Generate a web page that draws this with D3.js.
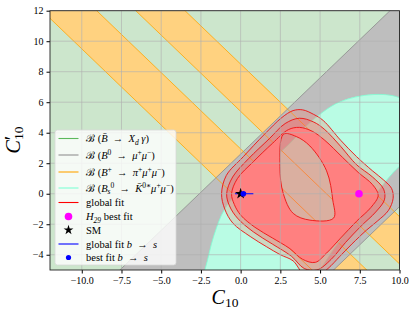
<!DOCTYPE html>
<html><head><meta charset="utf-8">
<script src="https://cdn.jsdelivr.net/npm/d3@7"></script>
<style>
body{margin:0;background:#fff}
text{font-family:"Liberation Serif","DejaVu Serif",serif}
</style>
</head><body>
<svg id="chart" width="415" height="315"></svg>
<script>
const xTicks = [-10, -7.5, -5, -2.5, 0, 2.5, 5, 7.5, 10];
const yTicks = [-4, -2, 0, 2, 4, 6, 8, 10, 12];

// B+ -> pi+ mu+ mu- allowed bands, as ranges of C10 + C10'
const orangeBands = [[-0.5, 2.94], [5.4, 8.5]];
// B0 -> mu+ mu- allowed band, as range of C10 - C10'
const grayBand = [-2.6, 10.85];

// Bs -> K*0 mu mu allowed region (C10, C10')
const cyanEdge = [[-3.2,-8],[-2.25,-5],[-1.7,-2.8],[-1.0,-1.0],[0.3,0.6],[1.5,1.8],[3.0,3.2],
  [4.4,4.7],[6.2,6.0],[8.3,6.5],[10,6.3],[11.5,5.2],[11.8,3.2],[10,1.8],[9.2,0.9],[7.8,-1.0],
  [6.25,-3.05],[5,-5],[3.5,-7.5],[0,-9.5]];

// global fit contours
const fit3 = [[-1.2,0],[-0.9,1.2],[0.17,2.43],[1.5,3.9],[2.6,5.0],[3.3,5.45],[3.9,5.5],[4.6,5.2],
  [5.2,4.8],[6.3,3.5],[7.3,2.43],[8.3,1.5],[9.0,0.9],[9.5,0.35],[9.6,-0.3],[9.3,-1.1],[8.6,-1.8],
  [7.93,-2.38],[7.0,-3.3],[6.25,-4.1],[5.5,-4.9],[4.8,-5.4],[4.0,-5.3],[3.3,-4.4],[2.5,-4.0],
  [1.64,-3.48],[0.6,-2.8],[-0.48,-1.94],[-1.0,-1.0]];
const fit2 = [[-0.88,0],[-0.5,1.1],[0.5,2.3],[1.8,3.6],[2.8,4.6],[3.7,4.95],[4.6,4.7],[5.3,4.2],
  [6.3,3.1],[7.3,1.9],[8.3,1.1],[9.0,0.3],[9.05,-0.4],[8.5,-1.2],[7.6,-2.1],[6.6,-3.2],[5.7,-4.3],
  [4.8,-5.0],[4.0,-4.9],[3.2,-4.1],[2.0,-3.3],[0.8,-2.5],[-0.2,-1.6],[-0.7,-0.8]];
const fit1 = [[-0.57,0],[-0.2,1.0],[0.8,2.1],[2.0,3.3],[3.0,4.2],[3.7,4.35],[4.5,4.1],[5.3,3.5],
  [6.4,2.4],[7.4,1.4],[8.3,0.6],[8.66,-0.1],[8.2,-0.9],[7.3,-1.8],[6.3,-2.9],[5.4,-3.9],[4.7,-4.5],
  [3.9,-4.3],[3.1,-3.6],[2.0,-2.9],[0.9,-2.2],[0.0,-1.4],[-0.4,-0.7]];
const fitHole = [[2.7,3.9],[2.47,1.77],[2.68,0.03],[3.31,-1.29],[4.36,-1.73],[5.85,-1.6],[5.8,-0.41],
  [5.41,1.5],[4.36,3.13],[3.5,3.75]];

const smPoint = [0, 0];
const h29Point = [7.45, 0];
const bsPoint = [0.17, 0];
const bsRange = [-0.36, 0.8];

const svg = d3.select("#chart");
const x = d3.scaleLinear().domain([-12, 10]).range([50, 399.5]);
const y = d3.scaleLinear().domain([-5, 12]).range([270, 10.7]);

svg.append("clipPath").attr("id", "plot")
  .append("rect").attr("x", 50).attr("y", 10.7).attr("width", 349.5).attr("height", 259.3);

const g = svg.append("g").attr("clip-path", "url(#plot)");
const line = d3.line().x(d => x(d[0])).y(d => y(d[1]));
const closed = d3.line().x(d => x(d[0])).y(d => y(d[1])).curve(d3.curveCatmullRomClosed.alpha(0.5));

// B -> X_d gamma covers the whole plane
g.append("rect").attr("x", 50).attr("y", 10.7).attr("width", 349.5).attr("height", 259.3)
  .attr("fill", "#cce6cc");

const sumBand = (a, b) => [[-30, a + 30], [30, a - 30], [30, b - 30], [-30, b + 30]];
const diffBand = (a, b) => [[-30, -30 - a], [30, 30 - a], [30, 30 - b], [-30, -30 - b]];

g.selectAll(".orange").data(orangeBands).enter().append("path")
  .attr("d", d => line(sumBand(d[0], d[1])) + "Z")
  .attr("fill", "#ffd280");

g.append("path").attr("d", line(diffBand(grayBand[0], grayBand[1])) + "Z")
  .attr("fill", "#bebebe");

g.append("path").attr("d", closed(cyanEdge)).attr("fill", "#b9fce4");

// edge lines of the bands
orangeBands.flat().forEach(s => {
  g.append("path").attr("d", line([[-30, s + 30], [30, s - 30]]))
    .attr("stroke", "#ffa500").attr("stroke-width", 0.8).attr("fill", "none");
});
grayBand.forEach(dd => {
  g.append("path").attr("d", line([[-30, -30 - dd], [30, 30 - dd]]))
    .attr("stroke", "#8c8c8c").attr("stroke-width", 0.8).attr("fill", "none");
});
g.append("path").attr("d", closed(cyanEdge))
  .attr("stroke", "#7fffd4").attr("stroke-width", 0.8).attr("fill", "none");

// global fit
g.append("path").attr("d", closed(fit3)).attr("fill", "#ff7060").attr("fill-opacity", 0.25);
g.append("path").attr("d", closed(fit2)).attr("fill", "#ff5050").attr("fill-opacity", 0.3);
g.append("path").attr("d", closed(fit1) + closed(fitHole)).attr("fill-rule", "evenodd")
  .attr("fill", "#ff8080");
[fit3, fit2, fit1, fitHole].forEach(c => {
  g.append("path").attr("d", closed(c)).attr("fill", "none")
    .attr("stroke", "#ee1111").attr("stroke-width", 0.9);
});

// grid
g.selectAll(".gx").data(xTicks).enter().append("line")
  .attr("x1", d => x(d)).attr("x2", d => x(d)).attr("y1", 10.7).attr("y2", 270)
  .attr("stroke", "#b0b0b0").attr("stroke-width", 0.8).attr("stroke-opacity", 0.8);
g.selectAll(".gy").data(yTicks).enter().append("line")
  .attr("y1", d => y(d)).attr("y2", d => y(d)).attr("x1", 50).attr("x2", 399.5)
  .attr("stroke", "#b0b0b0").attr("stroke-width", 0.8).attr("stroke-opacity", 0.8);

// points
g.append("line").attr("x1", x(bsRange[0])).attr("x2", x(bsRange[1]))
  .attr("y1", y(bsPoint[1])).attr("y2", y(bsPoint[1])).attr("stroke", "#0000ff").attr("stroke-width", 1.2);
g.append("circle").attr("cx", x(h29Point[0])).attr("cy", y(h29Point[1])).attr("r", 3.8).attr("fill", "#ff00ff");
g.append("path").attr("d", d3.symbol(d3.symbolStar, 40)())
  .attr("transform", `translate(${x(smPoint[0])},${y(smPoint[1])})`).attr("fill", "#000");
g.append("circle").attr("cx", x(bsPoint[0])).attr("cy", y(bsPoint[1])).attr("r", 2.8).attr("fill", "#0000ff");

// axes
svg.append("g").attr("transform", "translate(0,270)")
  .call(d3.axisBottom(x).tickValues(xTicks).tickFormat(d3.format(".1f")).tickSize(3.5).tickPadding(3))
  .call(a => a.select(".domain").remove());
svg.append("g").attr("transform", "translate(50,0)")
  .call(d3.axisLeft(y).tickValues(yTicks).tickSize(3.5).tickPadding(3))
  .call(a => a.select(".domain").remove());
svg.selectAll(".tick text").attr("font-family", "Liberation Serif, serif").attr("font-size", 10)
  .text(function() { return this.textContent.replace("-", "\u2212"); });
svg.append("rect").attr("x", 50).attr("y", 10.7).attr("width", 349.5).attr("height", 259.3)
  .attr("fill", "none").attr("stroke", "#222").attr("stroke-width", 0.9);

// axis labels
const xl = svg.append("text").attr("x", 225).attr("y", 304).attr("text-anchor", "middle").attr("font-size", 20);
xl.append("tspan").attr("font-style", "italic").text("C");
xl.append("tspan").attr("font-size", 13.5).attr("dy", 3).text("10");
const yl = svg.append("text").attr("transform", "translate(20,140) rotate(-90)")
  .attr("text-anchor", "middle").attr("font-size", 20);
yl.append("tspan").attr("font-style", "italic").text("C");
yl.append("tspan").attr("dy", -1).text("\u2032");
yl.append("tspan").attr("font-size", 13.5).attr("dx", -4).attr("dy", 4).text("10");

// legend
const legend = svg.append("g");
legend.append("rect").attr("x", 55).attr("y", 130).attr("width", 121).attr("height", 135)
  .attr("rx", 2.5).attr("fill", "#fff").attr("fill-opacity", 0.8).attr("stroke", "#d8d8d8").attr("stroke-width", 0.8);

const ARR = "\u2002→\u2002";
const legendRows = [
  {kind: "line", color: "#5cb85c", y: 138.5, parts: [["ℬ (",""],["B̄","i"],[ARR,""],["X","i"],["d","sub"],[" γ","i"],[")",""]]},
  {kind: "line", color: "#909090", y: 155, parts: [["ℬ (",""],["B","i"],["0","sup"],[ARR,""],["μ","i"],["+","sup"],["μ","i"],["−","sup"],[")",""]]},
  {kind: "line", color: "#ffa500", y: 172, parts: [["ℬ (",""],["B","i"],["+","sup"],[ARR,""],["π","i"],["+","sup"],["μ","i"],["+","sup"],["μ","i"],["−","sup"],[")",""]]},
  {kind: "line", color: "#7fffd4", y: 188, parts: [["ℬ (",""],["B","i"],["s","sub"],["0","sup"],[ARR,""],["K̄","i"],["0∗","sup"],["μ","i"],["+","sup"],["μ","i"],["−","sup"],[")",""]]},
  {kind: "line", color: "#ff0000", y: 202.5, parts: [["global fit",""]]},
  {kind: "dot", color: "#ff00ff", r: 3.8, y: 216.5, parts: [["H","i"],["29","sub"],[" best fit",""]]},
  {kind: "star", color: "#000", y: 230, parts: [["SM",""]]},
  {kind: "line", color: "#0000ff", y: 244, parts: [["global fit ",""],["b","i"],[ARR,""],["s","i"]]},
  {kind: "dot", color: "#0000ff", r: 2.6, y: 257.5, parts: [["best fit ",""],["b","i"],[ARR,""],["s","i"]]}
];

legendRows.forEach(r => {
  if (r.kind === "line") {
    legend.append("line").attr("x1", 58.5).attr("x2", 78.5).attr("y1", r.y).attr("y2", r.y)
      .attr("stroke", r.color).attr("stroke-width", 1.1);
  } else if (r.kind === "dot") {
    legend.append("circle").attr("cx", 68.5).attr("cy", r.y).attr("r", r.r).attr("fill", r.color);
  } else {
    legend.append("path").attr("d", d3.symbol(d3.symbolStar, 30)())
      .attr("transform", `translate(68.5,${r.y})`).attr("fill", r.color);
  }
  const t = legend.append("text").attr("x", 86).attr("y", r.y + 3.5).attr("font-size", 10.5);
  let shift = 0;
  r.parts.forEach(p => {
    const [s, k] = p;
    const ts = t.append("tspan").text(s);
    if (k === "i") ts.attr("font-style", "italic");
    if (k === "sub") { ts.attr("font-size", 7.5).attr("font-style", "italic").attr("dy", 2.5 - shift); shift = 2.5; return; }
    if (k === "sup") { ts.attr("font-size", 7.5).attr("dy", -4 - shift); shift = -4; return; }
    if (shift !== 0) { ts.attr("dy", -shift); shift = 0; }
  });
});
</script>
</body></html>
